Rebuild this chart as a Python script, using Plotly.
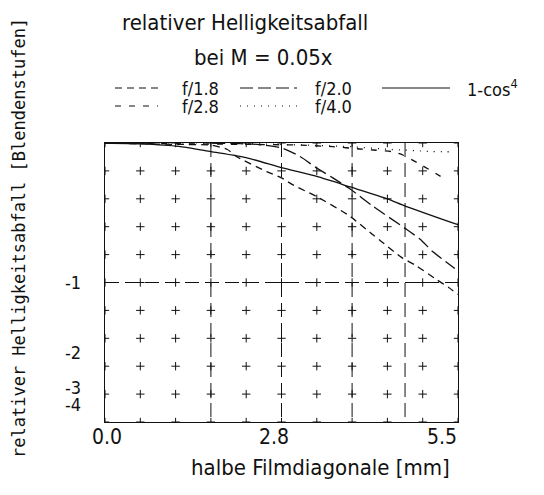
import plotly.graph_objects as go

# ---------------- data ----------------
# x: half film diagonal [mm]; values: brightness falloff in stops (Blendenstufen)
x_f18 = [0.0, 0.55, 1.1, 1.65, 1.9, 2.06, 2.52, 2.75, 2.93, 3.3, 3.8, 4.18, 4.29, 4.62, 4.85, 5.17, 5.35, 5.5]
s_f18 = [0.0, -0.005, -0.01, -0.015, -0.045, -0.10, -0.205, -0.25, -0.30, -0.385, -0.52, -0.66, -0.70, -0.82, -0.88, -0.98, -1.05, -1.13]

x_f20 = [0.0, 0.23, 0.44, 0.70, 0.96, 1.21, 1.43, 1.64, 2.1, 2.37, 2.76, 3.04, 3.30, 3.55, 3.82, 4.18, 4.67, 4.91, 5.11, 5.45]
s_f20 = [0.0, 0.012, 0.03, 0.04, 0.04, 0.03, 0.016, 0.0, -0.005, -0.01, -0.036, -0.097, -0.18, -0.25, -0.33, -0.455, -0.61, -0.69, -0.78, -0.90]

x_f28 = [0.0, 1.1, 2.2, 2.93, 3.55, 3.97, 4.18, 4.47, 4.64, 4.88, 5.06, 5.32]
s_f28 = [0.0, -0.005, -0.01, -0.014, -0.026, -0.043, -0.05, -0.062, -0.086, -0.145, -0.193, -0.264]

x_f40 = [0.0, 1.65, 2.75, 3.82, 4.4, 4.65, 4.91, 5.1, 5.3, 5.45]
s_f40 = [0.0, 0.0, -0.01, -0.026, -0.045, -0.05, -0.057, -0.062, -0.062, -0.066]

x_cos4 = [0.0, 0.55, 1.15, 1.65, 2.2, 2.75, 3.3, 3.82, 4.4, 4.67, 5.5]
s_cos4 = [0.0, -0.006, -0.024, -0.062, -0.105, -0.177, -0.24, -0.315, -0.40, -0.45, -0.586]

# axis ticks / reference lines
x_tickvals = [0.0, 2.75, 5.5]
x_ticktext = ["0.0", "2.8", "5.5"]
y_tick_stops = [-1, -2, -3, -4]
y_ticktext = ["-1", "-2", "-3", "-4"]
x_ref_lines = [1.65, 2.75, 3.85, 4.675]   # 30%, 50%, 70%, 85% of image half-diagonal
y_ref_stop = -1
x_grid = [0.0, 0.55, 1.1, 1.65, 2.2, 2.75, 3.3, 3.85, 4.4, 4.95, 5.5]
t_grid = [0.0, -0.2, -0.4, -0.6, -0.8, -1.0, -1.2, -1.4, -1.6, -1.8, -2.0]


# axis scale: linear in stops from 0 to -1, then linear in light fraction below -1
def to_axis(s):
    return s if s >= -1 else -2 + 2 ** (s + 1)


FONT = "DejaVu Sans Condensed, DejaVu Sans, sans-serif"
MONO = "DejaVu Sans Mono, monospace"
BLACK = "#111111"

fig = go.Figure()

# grid crosses
gx, gy = [], []
for xv in x_grid:
    for tv in t_grid:
        gx.append(xv)
        gy.append(tv)
fig.add_trace(go.Scatter(x=gx, y=gy, mode="markers", hoverinfo="skip",
                         marker=dict(symbol="cross-thin", size=6,
                                     line=dict(color=BLACK, width=1)),
                         showlegend=False))

# dashed reference lines
for xv in x_ref_lines:
    fig.add_trace(go.Scatter(x=[xv, xv], y=[0, -2], mode="lines", hoverinfo="skip",
                             line=dict(color=BLACK, width=1, dash="14px,6px"),
                             showlegend=False))
fig.add_trace(go.Scatter(x=[0, 5.5], y=[to_axis(y_ref_stop)] * 2, mode="lines",
                         hoverinfo="skip",
                         line=dict(color=BLACK, width=1, dash="14px,6px"),
                         showlegend=False))

DASH = {"f/1.8": "7px,5px", "f/2.0": "13px,5px", "f/2.8": "6px,8px",
        "f/4.0": "1px,6px", "1-cos4": "solid"}
series = [
    ("f/1.8", x_f18, s_f18),
    ("f/2.0", x_f20, s_f20),
    ("f/2.8", x_f28, s_f28),
    ("f/4.0", x_f40, s_f40),
    ("1-cos4", x_cos4, s_cos4),
]
for name, xs, ss in series:
    fig.add_trace(go.Scatter(x=xs, y=[to_axis(v) for v in ss], mode="lines",
                             name=name, line=dict(color=BLACK, width=1.3, dash=DASH[name],
                                                  shape="spline", smoothing=0.6),
                             showlegend=False))

# ---------------- layout ----------------
L, R, T, B = 105, 458, 143, 422   # plot area in page pixels
W, H = 544, 495
OFF = 8                           # page body margin


def px(xp):
    return (xp - L) / (R - L)


def py(yp):
    return (B - yp) / (B - T)


annotations = [
    dict(text="relativer Helligkeitsabfall", x=px(245), y=py(22), font=dict(size=22)),
    dict(text="bei M = 0.05x", x=px(263), y=py(57), font=dict(size=22)),
    dict(text="relativer Helligkeitsabfall [Blendenstufen]", x=px(19), y=py(238),
         textangle=-90, font=dict(size=17, family=MONO)),
    dict(text="halbe Filmdiagonale [mm]", x=px(320), y=py(467), font=dict(size=22)),
]
# x tick labels (plotter placement)
x_label_shift = [2, -8, -16]
for xv, lab, sh in zip(x_tickvals, x_ticktext, x_label_shift):
    annotations.append(dict(text=lab, x=xv, xref="x", y=py(437), xshift=sh,
                            font=dict(size=21)))
# y tick labels
for sv, lab in zip(y_tick_stops, y_ticktext):
    annotations.append(dict(text=lab, x=px(83), y=to_axis(sv), yref="y",
                            xanchor="right", font=dict(size=18)))

# legend
leg_rows = [
    [("f/1.8", 115, 158, "f/1.8", 180), ("f/2.0", 240, 297, "f/2.0", 313),
     ("1-cos4", 382, 450, "1-cos<sup>4</sup>", 465)],
    [("f/2.8", 115, 158, "f/2.8", 180), ("f/4.0", 240, 297, "f/4.0", 313)],
]
row_y = [88, 106]
shapes = []
for ri, row in enumerate(leg_rows):
    yy = row_y[ri]
    for key, x0, x1, label, tx in row:
        shapes.append(dict(type="line", xref="paper", yref="paper",
                           x0=px(x0), x1=px(x1), y0=py(yy), y1=py(yy),
                           line=dict(color=BLACK, width=1.2, dash=DASH[key])))
        annotations.append(dict(text=label, x=px(tx), y=py(yy), xanchor="left",
                                font=dict(size=18)))

for a in annotations:
    a.setdefault("xref", "paper")
    a.setdefault("yref", "paper")
    a.setdefault("showarrow", False)
    a.setdefault("xanchor", "center")
    a.setdefault("yanchor", "middle")

fig.update_layout(
    width=W, height=H,
    margin=dict(l=L - OFF, r=W - R + OFF, t=T - OFF, b=H - B + OFF),
    paper_bgcolor="white", plot_bgcolor="white",
    font=dict(family=FONT, color=BLACK),
    annotations=annotations, shapes=shapes,
    xaxis=dict(range=[0, 5.5], showgrid=False, zeroline=False,
               showline=True, mirror=True, linecolor=BLACK, linewidth=1.3,
               tickvals=x_tickvals, showticklabels=False, ticks=""),
    yaxis=dict(range=[-2, 0], showgrid=False, zeroline=False,
               showline=True, mirror=True, linecolor=BLACK, linewidth=1.3,
               tickvals=[to_axis(v) for v in y_tick_stops], showticklabels=False,
               ticks=""),
)

fig.write_html("out.html")
